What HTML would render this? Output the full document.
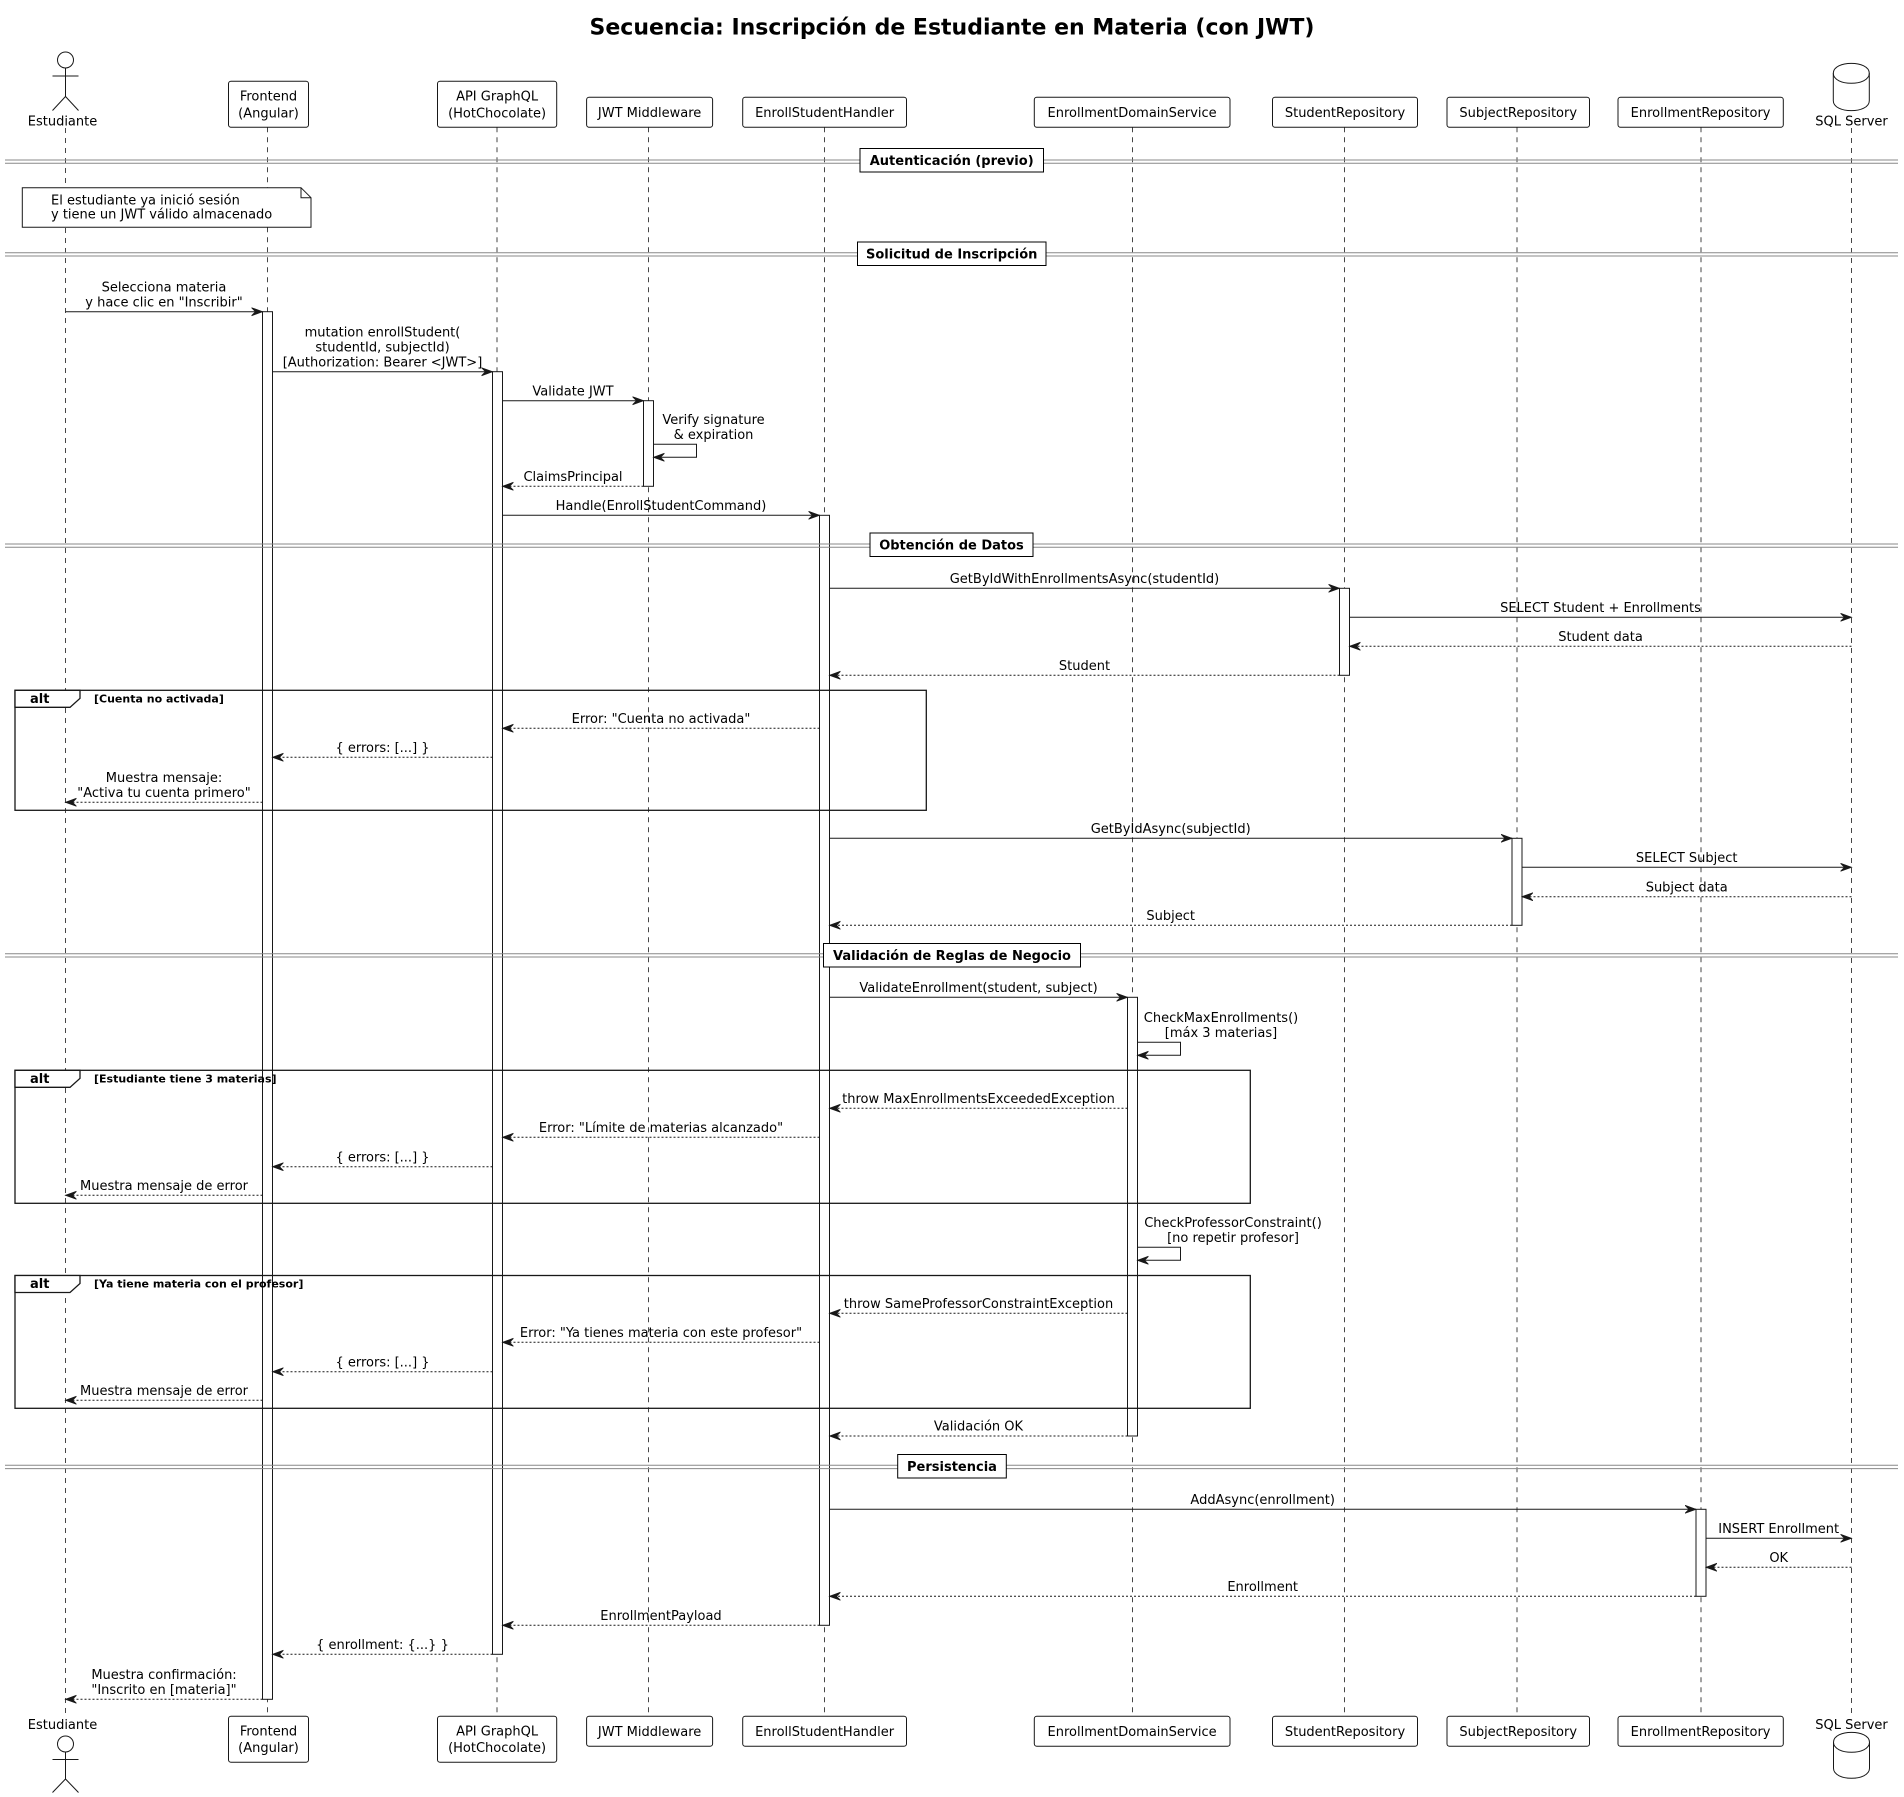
<!DOCTYPE html>
<html>
<head>
<meta charset="utf-8">
<style>
html,body{margin:0;padding:0;background:#fff;}
svg{display:block;}
text{font-family:"DejaVu Sans","Liberation Sans",sans-serif;fill:#000;}
.m{font-size:13px;text-anchor:middle;}
.p{font-size:13px;text-anchor:middle;}
.lbl{font-size:13px;font-weight:bold;text-anchor:middle;}
.g{font-size:11px;font-weight:bold;}
.ll{stroke:#181818;stroke-width:0.8;stroke-dasharray:5,5;fill:none;}
.box{fill:#fff;stroke:#181818;stroke-width:1;}
.act{fill:#fff;stroke:#181818;stroke-width:1;}
.s{stroke:#181818;stroke-width:1;fill:none;marker-end:url(#ah);}
.d{stroke:#181818;stroke-width:1;fill:none;stroke-dasharray:2,2;marker-end:url(#ah);}
.div{stroke:#888;stroke-width:1;}
.fr{fill:none;stroke:#181818;stroke-width:1.3;}
</style>
</head>
<body>
<svg width="1904" height="1797" viewBox="0 0 1904 1797" xmlns="http://www.w3.org/2000/svg">
<defs>
<marker id="ah" markerUnits="userSpaceOnUse" markerWidth="12" markerHeight="10" refX="11" refY="4.5" orient="auto">
<path d="M0,0.5 L11,4.5 L0,8.5 L4,4.5 Z" fill="#181818" stroke="#181818" stroke-width="0.8"/>
</marker>
</defs>
<rect width="1904" height="1797" fill="#fff"/>

<!-- Title -->
<text x="952" y="34.5" style="font-size:22px;font-weight:bold;text-anchor:middle;">Secuencia: Inscripción de Estudiante en Materia (con JWT)</text>

<!-- Lifelines -->
<line class="ll" x1="65.5" y1="128" x2="65.5" y2="1716"/>
<line class="ll" x1="267.5" y1="127.3" x2="267.5" y2="1716"/>
<line class="ll" x1="497" y1="127.3" x2="497" y2="1716"/>
<line class="ll" x1="648.5" y1="127.3" x2="648.5" y2="1716"/>
<line class="ll" x1="824.5" y1="127.3" x2="824.5" y2="1716"/>
<line class="ll" x1="1132.5" y1="127.3" x2="1132.5" y2="1716"/>
<line class="ll" x1="1344.5" y1="127.3" x2="1344.5" y2="1716"/>
<line class="ll" x1="1517" y1="127.3" x2="1517" y2="1716"/>
<line class="ll" x1="1701" y1="127.3" x2="1701" y2="1716"/>
<line class="ll" x1="1851.5" y1="128" x2="1851.5" y2="1716"/>

<!-- Top participants -->
<g>
<circle cx="65.5" cy="60" r="8" fill="#fff" stroke="#181818" stroke-width="1"/>
<line x1="65.5" y1="68" x2="65.5" y2="96.5" stroke="#181818"/>
<line x1="52.5" y1="76" x2="78.5" y2="76" stroke="#181818"/>
<line x1="65.5" y1="96.5" x2="52.5" y2="110.5" stroke="#181818"/>
<line x1="65.5" y1="96.5" x2="78.5" y2="110.5" stroke="#181818"/>
<text class="p" x="62.5" y="125.3">Estudiante</text>

<rect class="box" x="228.5" y="81.3" width="80" height="46" rx="2.5"/>
<text class="p" x="268.5" y="100.7">Frontend</text>
<text class="p" x="268.5" y="117.7">(Angular)</text>

<rect class="box" x="437.5" y="81.3" width="119.2" height="46" rx="2.5"/>
<text class="p" x="497.1" y="100.7">API GraphQL</text>
<text class="p" x="497.1" y="117.7">(HotChocolate)</text>

<rect class="box" x="586.6" y="97.3" width="126" height="30" rx="2.5"/>
<text class="p" x="649.6" y="117">JWT Middleware</text>

<rect class="box" x="742.7" y="97.3" width="163.8" height="30" rx="2.5"/>
<text class="p" x="824.6" y="117">EnrollStudentHandler</text>

<rect class="box" x="1034.3" y="97.3" width="195.7" height="30" rx="2.5"/>
<text class="p" x="1132.1" y="117">EnrollmentDomainService</text>

<rect class="box" x="1272.5" y="97.3" width="145" height="30" rx="2.5"/>
<text class="p" x="1345" y="117">StudentRepository</text>

<rect class="box" x="1447" y="97.3" width="142.5" height="30" rx="2.5"/>
<text class="p" x="1518.2" y="117">SubjectRepository</text>

<rect class="box" x="1618" y="97.3" width="165.3" height="30" rx="2.5"/>
<text class="p" x="1700.6" y="117">EnrollmentRepository</text>

<path d="M1833.3,73.3 C1833.3,60 1869.3,60 1869.3,73.3 L1869.3,100.7 C1869.3,114 1833.3,114 1833.3,100.7 Z" fill="#fff" stroke="#181818" stroke-width="1"/>
<path d="M1833.3,73.3 C1833.3,86.6 1869.3,86.6 1869.3,73.3" fill="none" stroke="#181818" stroke-width="1"/>
<text class="p" x="1851.5" y="125.5">SQL Server</text>
</g>

<!-- Bottom participants -->
<g>
<text class="p" x="62.5" y="1729">Estudiante</text>
<circle cx="65.5" cy="1744" r="8" fill="#fff" stroke="#181818" stroke-width="1"/>
<line x1="65.5" y1="1752" x2="65.5" y2="1779" stroke="#181818"/>
<line x1="52.5" y1="1759.5" x2="78.5" y2="1759.5" stroke="#181818"/>
<line x1="65.5" y1="1779" x2="52.5" y2="1792.5" stroke="#181818"/>
<line x1="65.5" y1="1779" x2="78.5" y2="1792.5" stroke="#181818"/>

<rect class="box" x="228.5" y="1716.3" width="80" height="46" rx="2.5"/>
<text class="p" x="268.5" y="1735.7">Frontend</text>
<text class="p" x="268.5" y="1752">(Angular)</text>

<rect class="box" x="437.5" y="1716.3" width="119.2" height="46" rx="2.5"/>
<text class="p" x="497.1" y="1735.7">API GraphQL</text>
<text class="p" x="497.1" y="1752">(HotChocolate)</text>

<rect class="box" x="586.6" y="1716.3" width="126" height="30" rx="2.5"/>
<text class="p" x="649.6" y="1736">JWT Middleware</text>

<rect class="box" x="742.7" y="1716.3" width="163.8" height="30" rx="2.5"/>
<text class="p" x="824.6" y="1736">EnrollStudentHandler</text>

<rect class="box" x="1034.3" y="1716.3" width="195.7" height="30" rx="2.5"/>
<text class="p" x="1132.1" y="1736">EnrollmentDomainService</text>

<rect class="box" x="1272.5" y="1716.3" width="145" height="30" rx="2.5"/>
<text class="p" x="1345" y="1736">StudentRepository</text>

<rect class="box" x="1447" y="1716.3" width="142.5" height="30" rx="2.5"/>
<text class="p" x="1518.2" y="1736">SubjectRepository</text>

<rect class="box" x="1618" y="1716.3" width="165.3" height="30" rx="2.5"/>
<text class="p" x="1700.6" y="1736">EnrollmentRepository</text>

<text class="p" x="1851.5" y="1729">SQL Server</text>
<path d="M1833.5,1742.3 C1833.5,1729 1869.5,1729 1869.5,1742.3 L1869.5,1768.3 C1869.5,1781.6 1833.5,1781.6 1833.5,1768.3 Z" fill="#fff" stroke="#181818" stroke-width="1"/>
<path d="M1833.5,1742.3 C1833.5,1755.6 1869.5,1755.6 1869.5,1742.3" fill="none" stroke="#181818" stroke-width="1"/>
</g>

<!-- Activations -->
<rect class="act" x="262.5" y="311.7" width="10" height="1387.6"/>
<rect class="act" x="492.5" y="371.7" width="10" height="1282.6"/>
<rect class="act" x="643.5" y="400.7" width="10" height="85.6"/>
<rect class="act" x="819.5" y="515.3" width="10" height="1110"/>
<rect class="act" x="1339.5" y="588.3" width="10" height="87"/>
<rect class="act" x="1512" y="838.3" width="10" height="87"/>
<rect class="act" x="1127.5" y="997.3" width="10" height="438.7"/>
<rect class="act" x="1696" y="1509.3" width="10" height="87"/>

<!-- Dividers -->
<g>
<line class="div" x1="5" y1="160" x2="1898" y2="160"/><line class="div" x1="5" y1="163.3" x2="1898" y2="163.3"/>
<line class="div" x1="5" y1="252.7" x2="1898" y2="252.7"/><line class="div" x1="5" y1="256" x2="1898" y2="256"/>
<line class="div" x1="5" y1="544" x2="1898" y2="544"/><line class="div" x1="5" y1="547.3" x2="1898" y2="547.3"/>
<line class="div" x1="5" y1="953.7" x2="1898" y2="953.7"/><line class="div" x1="5" y1="957" x2="1898" y2="957"/>
<line class="div" x1="5" y1="1465.3" x2="1898" y2="1465.3"/><line class="div" x1="5" y1="1468.6" x2="1898" y2="1468.6"/>

<rect x="860" y="148.5" width="183.5" height="23.5" fill="#fff" stroke="#000" stroke-width="1"/>
<text class="lbl" x="951.7" y="164.8">Autenticación (previo)</text>
<rect x="857.5" y="242" width="188.5" height="23.5" fill="#fff" stroke="#000" stroke-width="1"/>
<text class="lbl" x="951.7" y="258.3">Solicitud de Inscripción</text>
<rect x="870" y="533" width="163" height="23.5" fill="#fff" stroke="#000" stroke-width="1"/>
<text class="lbl" x="951.5" y="549.3">Obtención de Datos</text>
<rect x="823.5" y="943.5" width="257" height="23.5" fill="#fff" stroke="#000" stroke-width="1"/>
<text class="lbl" x="952" y="959.8">Validación de Reglas de Negocio</text>
<rect x="897.7" y="1454.5" width="108.6" height="23.5" fill="#fff" stroke="#000" stroke-width="1"/>
<text class="lbl" x="952" y="1470.8">Persistencia</text>
</g>

<!-- Note -->
<path d="M22.3,187.7 L301,187.7 L311,197.7 L311,227.3 L22.3,227.3 Z" fill="#fff" stroke="#181818" stroke-width="1"/>
<path d="M301,187.7 L301,197.7 L311,197.7" fill="none" stroke="#181818" stroke-width="1"/>
<text x="51" y="204.7" style="font-size:13px;">El estudiante ya inició sesión</text>
<text x="51" y="218.7" style="font-size:13px;">y tiene un JWT válido almacenado</text>

<!-- Alt frames -->
<rect class="fr" x="15" y="690.3" width="911.3" height="120"/>
<path d="M15,690.3 L80,690.3 L80,698.3 L70,707.3 L15,707.3 Z" fill="#fff" stroke="#181818" stroke-width="1.3"/>
<text x="30" y="703" style="font-size:13px;font-weight:bold;">alt</text>
<text class="g" x="94" y="702.5">[Cuenta no activada]</text>

<rect class="fr" x="15" y="1070.3" width="1235.3" height="133"/>
<path d="M15,1070.3 L80,1070.3 L80,1078.3 L70,1087.3 L15,1087.3 Z" fill="#fff" stroke="#181818" stroke-width="1.3"/>
<text x="30" y="1083" style="font-size:13px;font-weight:bold;">alt</text>
<text class="g" x="94" y="1082.5">[Estudiante tiene 3 materias]</text>

<rect class="fr" x="15" y="1275.5" width="1235.3" height="132.8"/>
<path d="M15,1275.5 L80,1275.5 L80,1283.5 L70,1292.5 L15,1292.5 Z" fill="#fff" stroke="#181818" stroke-width="1.3"/>
<text x="30" y="1288.2" style="font-size:13px;font-weight:bold;">alt</text>
<text class="g" x="94" y="1287.7">[Ya tiene materia con el profesor]</text>

<!-- Messages -->
<line class="s" x1="65.5" y1="311.7" x2="262.5" y2="311.7"/>
<text class="m" x="164" y="291.4">Selecciona materia</text>
<text class="m" x="164" y="306.4">y hace clic en "Inscribir"</text>

<line class="s" x1="272.5" y1="371.7" x2="492.5" y2="371.7"/>
<text class="m" x="382.5" y="336.4">mutation enrollStudent(</text>
<text class="m" x="382.5" y="351.4">studentId, subjectId)</text>
<text class="m" x="382.5" y="366.4">[Authorization: Bearer &lt;JWT&gt;]</text>

<line class="s" x1="502.5" y1="400.7" x2="643.5" y2="400.7"/>
<text class="m" x="573" y="395.4">Validate JWT</text>

<polyline class="s" points="653.5,444.3 696.5,444.3 696.5,457.3 653.5,457.3"/>
<text class="m" x="713.5" y="424">Verify signature</text>
<text class="m" x="713.5" y="439">&amp; expiration</text>

<line class="d" x1="643.5" y1="486.3" x2="502.5" y2="486.3"/>
<text class="m" x="573" y="481">ClaimsPrincipal</text>

<line class="s" x1="502.5" y1="515.3" x2="819.5" y2="515.3"/>
<text class="m" x="661" y="510">Handle(EnrollStudentCommand)</text>

<line class="s" x1="829.5" y1="588.3" x2="1339.5" y2="588.3"/>
<text class="m" x="1084.5" y="583">GetByIdWithEnrollmentsAsync(studentId)</text>

<line class="s" x1="1349.5" y1="617.3" x2="1851.5" y2="617.3"/>
<text class="m" x="1600.5" y="612">SELECT Student + Enrollments</text>

<line class="d" x1="1851.5" y1="646.3" x2="1349.5" y2="646.3"/>
<text class="m" x="1600.5" y="641">Student data</text>

<line class="d" x1="1339.5" y1="675.3" x2="829.5" y2="675.3"/>
<text class="m" x="1084.5" y="670">Student</text>

<line class="d" x1="819.5" y1="728.3" x2="502.5" y2="728.3"/>
<text class="m" x="661" y="723">Error: "Cuenta no activada"</text>

<line class="d" x1="492.5" y1="757.3" x2="272.5" y2="757.3"/>
<text class="m" x="382.5" y="752">{ errors: [...] }</text>

<line class="d" x1="262.5" y1="802.3" x2="65.5" y2="802.3"/>
<text class="m" x="164" y="782">Muestra mensaje:</text>
<text class="m" x="164" y="797">"Activa tu cuenta primero"</text>

<line class="s" x1="829.5" y1="838.3" x2="1512" y2="838.3"/>
<text class="m" x="1170.7" y="833">GetByIdAsync(subjectId)</text>

<line class="s" x1="1522" y1="867.3" x2="1851.5" y2="867.3"/>
<text class="m" x="1686.7" y="862">SELECT Subject</text>

<line class="d" x1="1851.5" y1="896.7" x2="1522" y2="896.7"/>
<text class="m" x="1686.7" y="891.4">Subject data</text>

<line class="d" x1="1512" y1="925.3" x2="829.5" y2="925.3"/>
<text class="m" x="1170.7" y="920">Subject</text>

<line class="s" x1="829.5" y1="997.3" x2="1127.5" y2="997.3"/>
<text class="m" x="978.5" y="992">ValidateEnrollment(student, subject)</text>

<polyline class="s" points="1137.5,1042.3 1180.5,1042.3 1180.5,1055.3 1137.5,1055.3"/>
<text class="m" x="1221" y="1022">CheckMaxEnrollments()</text>
<text class="m" x="1221" y="1037">[máx 3 materias]</text>

<line class="d" x1="1127.5" y1="1108.3" x2="829.5" y2="1108.3"/>
<text class="m" x="978.5" y="1103">throw MaxEnrollmentsExceededException</text>

<line class="d" x1="819.5" y1="1137.3" x2="502.5" y2="1137.3"/>
<text class="m" x="661" y="1132">Error: "Límite de materias alcanzado"</text>

<line class="d" x1="492.5" y1="1166.7" x2="272.5" y2="1166.7"/>
<text class="m" x="382.5" y="1161.4">{ errors: [...] }</text>

<line class="d" x1="262.5" y1="1195.3" x2="65.5" y2="1195.3"/>
<text class="m" x="164" y="1190">Muestra mensaje de error</text>

<polyline class="s" points="1137.5,1247.3 1180.5,1247.3 1180.5,1260.3 1137.5,1260.3"/>
<text class="m" x="1233" y="1227">CheckProfessorConstraint()</text>
<text class="m" x="1233" y="1242">[no repetir profesor]</text>

<line class="d" x1="1127.5" y1="1313.3" x2="829.5" y2="1313.3"/>
<text class="m" x="978.5" y="1308">throw SameProfessorConstraintException</text>

<line class="d" x1="819.5" y1="1342.3" x2="502.5" y2="1342.3"/>
<text class="m" x="661" y="1337">Error: "Ya tienes materia con este profesor"</text>

<line class="d" x1="492.5" y1="1371.7" x2="272.5" y2="1371.7"/>
<text class="m" x="382.5" y="1366.4">{ errors: [...] }</text>

<line class="d" x1="262.5" y1="1400.3" x2="65.5" y2="1400.3"/>
<text class="m" x="164" y="1395">Muestra mensaje de error</text>

<line class="d" x1="1127.5" y1="1436" x2="829.5" y2="1436"/>
<text class="m" x="978.5" y="1430.7">Validación OK</text>

<line class="s" x1="829.5" y1="1509.3" x2="1696" y2="1509.3"/>
<text class="m" x="1262.7" y="1504">AddAsync(enrollment)</text>

<line class="s" x1="1706" y1="1538.3" x2="1851.5" y2="1538.3"/>
<text class="m" x="1778.7" y="1533">INSERT Enrollment</text>

<line class="d" x1="1851.5" y1="1567.3" x2="1706" y2="1567.3"/>
<text class="m" x="1778.7" y="1562">OK</text>

<line class="d" x1="1696" y1="1596.3" x2="829.5" y2="1596.3"/>
<text class="m" x="1262.7" y="1591">Enrollment</text>

<line class="d" x1="819.5" y1="1625.3" x2="502.5" y2="1625.3"/>
<text class="m" x="661" y="1620">EnrollmentPayload</text>

<line class="d" x1="492.5" y1="1654.3" x2="272.5" y2="1654.3"/>
<text class="m" x="382.5" y="1649">{ enrollment: {...} }</text>

<line class="d" x1="262.5" y1="1699.3" x2="65.5" y2="1699.3"/>
<text class="m" x="164" y="1679">Muestra confirmación:</text>
<text class="m" x="164" y="1694">"Inscrito en [materia]"</text>
</svg>
</body>
</html>
